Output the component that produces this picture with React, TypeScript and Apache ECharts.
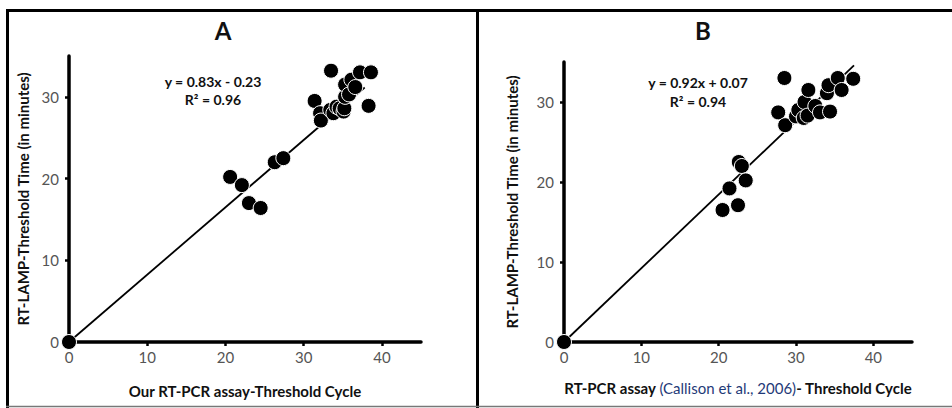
import React, { useEffect, useRef } from "react";
import * as echarts from "echarts";

const aX = [0, 20.6, 22.1, 23.0, 24.5, 26.3, 27.4, 31.4, 32.1, 32.2, 33.5, 33.4, 33.8, 34.2, 34.6, 35.1, 35.2, 35.3, 35.3, 35.8, 36.1, 36.6, 37.2, 38.3, 38.6];
const aY = [0, 20.2, 19.2, 17.0, 16.4, 22.0, 22.5, 29.5, 28.0, 27.1, 33.2, 28.4, 28.0, 28.8, 28.6, 28.2, 28.6, 30.0, 31.5, 30.3, 32.1, 31.2, 33.0, 28.9, 33.0];
const bX = [0, 20.5, 21.4, 22.5, 22.6, 23.0, 23.5, 27.7, 28.5, 28.6, 30.0, 30.3, 31.0, 31.1, 31.6, 31.5, 32.5, 33.1, 34.0, 34.2, 34.4, 35.4, 35.9, 37.4];
const bY = [0, 16.5, 19.2, 17.1, 22.5, 22.0, 20.2, 28.7, 33.0, 27.1, 28.2, 29.0, 28.0, 30.0, 31.5, 28.3, 29.5, 28.7, 31.1, 32.1, 28.8, 33.0, 31.5, 32.9];
const fitA = { slope: 0.83, intercept: -0.23, xEnd: 37.8 };
const fitB = { slope: 0.92, intercept: 0.07, xEnd: 37.5 };
const xTicks = [0, 10, 20, 30, 40];
const yTicks = [0, 10, 20, 30];
const eqA = ["y = 0.83x - 0.23", "R² = 0.96"];
const eqB = ["y = 0.92x + 0.07", "R² = 0.94"];

const FONT = "Lato";

function axisCommon() {
  return {
    axisLine: { show: true, onZero: false, lineStyle: { color: "#000", width: 3.5 } },
    axisTick: { show: true, inside: false, length: 4, lineStyle: { color: "#000", width: 2.5 }, customValues: [] as number[] },
    splitLine: { show: false },
    axisLabel: { color: "#555", fontSize: 15, fontFamily: FONT, customValues: [] as number[] },
    nameLocation: "middle" as const,
    nameTextStyle: { color: "#111", fontSize: 15, fontWeight: "bold" as const, fontFamily: FONT },
  };
}

function xAxis(gridIndex: number, name: any, gap: number, rich?: any) {
  const c = axisCommon();
  return {
    ...c,
    type: "value",
    gridIndex,
    min: 0,
    max: 45,
    interval: 10,
    name,
    nameGap: gap,
    nameTextStyle: { ...c.nameTextStyle, rich },
    axisTick: { ...c.axisTick, customValues: xTicks },
    axisLabel: { ...c.axisLabel, margin: 7, customValues: xTicks },
  };
}

function yAxis(gridIndex: number, gap: number) {
  const c = axisCommon();
  return {
    ...c,
    type: "value",
    gridIndex,
    min: 0,
    max: 35,
    interval: 5,
    name: "RT-LAMP-Threshold Time (in minutes)",
    nameGap: gap,
    axisTick: { ...c.axisTick, customValues: yTicks },
    axisLabel: { ...c.axisLabel, margin: 10, customValues: yTicks },
  };
}

function zip(xs: number[], ys: number[]) {
  return xs.map((x, i) => [x, ys[i]]);
}

function fitLine(f: { slope: number; intercept: number; xEnd: number }) {
  return [
    [0, 0],
    [f.xEnd, f.slope * f.xEnd + f.intercept],
  ];
}

export default function App() {
  const ref = useRef<HTMLDivElement>(null);
  useEffect(() => {
    if (!ref.current) return;
    const chart = echarts.init(ref.current, undefined, { renderer: "svg" });
    const scatterStyle = { color: "#000", borderColor: "#fff", borderWidth: 1, opacity: 1 };
    const txt = (x: number, y: number, text: string, size: number) => ({
      type: "text",
      x,
      y,
      style: { text, fontSize: size, fontWeight: "bold", fontFamily: FONT, fill: "#111", align: "center", verticalAlign: "middle" },
    });
    chart.setOption({
      animation: false,
      backgroundColor: "#fff",
      grid: [
        { left: 69, top: 56, width: 352, height: 286 },
        { left: 564, top: 62, width: 348, height: 280 },
      ],
      xAxis: [
        xAxis(0, "Our RT-PCR assay-Threshold Cycle", 41),
        xAxis(
          1,
          "{b|RT-PCR assay }{c|(Callison et al., 2006)}{b|- Threshold Cycle}",
          38,
          {
            b: { color: "#111", fontSize: 15, fontWeight: "bold", fontFamily: FONT },
            c: { color: "#1f3a78", fontSize: 15, fontWeight: "normal", fontFamily: FONT },
          }
        ),
      ],
      yAxis: [yAxis(0, 39), yAxis(1, 45)],
      series: [
        {
          type: "line",
          xAxisIndex: 0,
          yAxisIndex: 0,
          data: fitLine(fitA),
          showSymbol: false,
          symbol: "none",
          lineStyle: { color: "#000", width: 1.8 },
          z: 1,
        },
        {
          type: "scatter",
          xAxisIndex: 0,
          yAxisIndex: 0,
          data: zip(aX, aY),
          symbolSize: 15,
          itemStyle: scatterStyle,
          clip: false,
          z: 3,
        },
        {
          type: "line",
          xAxisIndex: 1,
          yAxisIndex: 1,
          data: fitLine(fitB),
          showSymbol: false,
          symbol: "none",
          lineStyle: { color: "#000", width: 1.8 },
          z: 1,
        },
        {
          type: "scatter",
          xAxisIndex: 1,
          yAxisIndex: 1,
          data: zip(bX, bY),
          symbolSize: 15,
          itemStyle: scatterStyle,
          clip: false,
          z: 3,
        },
      ],
      graphic: [
        { type: "line", shape: { x1: 6, y1: 10.5, x2: 952, y2: 10.5 }, style: { stroke: "#000", lineWidth: 3 } },
        { type: "line", shape: { x1: 7.5, y1: 9, x2: 7.5, y2: 408 }, style: { stroke: "#000", lineWidth: 3 } },
        { type: "line", shape: { x1: 477.5, y1: 9, x2: 477.5, y2: 408 }, style: { stroke: "#000", lineWidth: 3 } },
        { type: "line", shape: { x1: 6, y1: 406.5, x2: 952, y2: 406.5 }, style: { stroke: "#777", lineWidth: 1.5 } },
        txt(223, 30, "A", 24),
        txt(703, 30, "B", 24),
        txt(213, 81, eqA[0], 14),
        txt(213, 99, eqA[1], 14),
        txt(698, 82, eqB[0], 14),
        txt(698, 101, eqB[1], 14),
      ],
    });
    return () => chart.dispose();
  }, []);
  return (
    <div
      ref={ref}
      style={{ position: "fixed", left: 0, top: 0, width: 952, height: 408, background: "#fff" }}
    />
  );
}
